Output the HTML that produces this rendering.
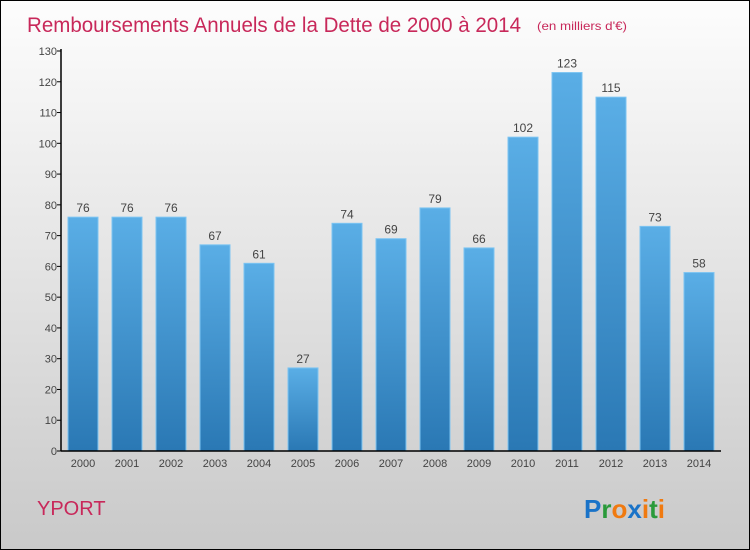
<!DOCTYPE html>
<html><head><meta charset="utf-8"><style>
body{margin:0}
#c{width:750px;height:550px;box-sizing:border-box;border:1px solid #000;background:linear-gradient(#fdfdfd,#c9c9c9);position:relative;overflow:hidden;font-family:"Liberation Sans",sans-serif}
</style></head><body>
<div id="c">
<svg width="750" height="550" style="position:absolute;left:0;top:0">
<defs><linearGradient id="g" x1="0" y1="0" x2="0" y2="1"><stop offset="0" stop-color="#5aaee6"/><stop offset="1" stop-color="#2a78b4"/></linearGradient></defs>
<text x="26" y="31" font-size="21" fill="#c8285a" textLength="494" lengthAdjust="spacingAndGlyphs">Remboursements Annuels de la Dette de 2000 à 2014</text>
<text x="536" y="29" font-size="12" fill="#c8285a" textLength="90" lengthAdjust="spacingAndGlyphs">(en milliers d'€)</text>
<g id="plot"></g>
<text x="36" y="514" font-size="20" fill="#c8285a">YPORT</text>
<text x="583" y="517" font-size="26" font-weight="bold"><tspan fill="#1a73c8">P</tspan><tspan fill="#2a9a3a">r</tspan><tspan fill="#f07a10">o</tspan><tspan fill="#1a73c8">x</tspan><tspan fill="#f07a10">i</tspan><tspan fill="#2a9a3a">t</tspan><tspan fill="#f07a10">i</tspan></text>
</svg>
</div>
<script>
const categories=["2000","2001","2002","2003","2004","2005","2006","2007","2008","2009","2010","2011","2012","2013","2014"];
const values=[76,76,76,67,61,27,74,69,79,66,102,123,115,73,58];
const yTicks=[0,10,20,30,40,50,60,70,80,90,100,110,120,130];
const NS="http://www.w3.org/2000/svg";
const g=document.getElementById('plot');
const x0=60,x1=720,y0=450,y1=50,yMax=130;
const y=v=>y0-(v/yMax)*(y0-y1);
const step=(x1-x0)/categories.length;
const xc=i=>x0+22+i*step;
function el(t,a){const e=document.createElementNS(NS,t);for(const k in a)e.setAttribute(k,a[k]);g.appendChild(e);return e;}
yTicks.forEach(t=>{
 const l=el('line',{x1:x0-4,x2:x0,y1:y(t),y2:y(t),stroke:'#000'});
 
 
 const tx=el('text',{x:x0-4,y:y(t)+4,'font-size':11,fill:'#444','text-anchor':'end'});
 tx.textContent=t;
 
 
});
values.forEach((v,i)=>{
 const r=el('rect',{x:xc(i)-15,y:y(v),width:30,height:y0-y(v),fill:'url(#g)',stroke:'#7cc4f2','stroke-width':1});
 
 
 const t=el('text',{x:xc(i),y:y(v)-5,'font-size':12,fill:'#444','text-anchor':'middle'});
 t.textContent=v;
 
 
 const c=el('text',{x:xc(i),y:y0+16,'font-size':11,fill:'#444','text-anchor':'middle'});
 c.textContent=categories[i];
 
 
});
const ya=el('line',{x1:x0,x2:x0,y1:y1-2,y2:y0,stroke:'#000','stroke-width':1.5});


const xa=el('line',{x1:x0,x2:x1,y1:y0,y2:y0,stroke:'#000','stroke-width':1.5});


</script>
</body></html>
